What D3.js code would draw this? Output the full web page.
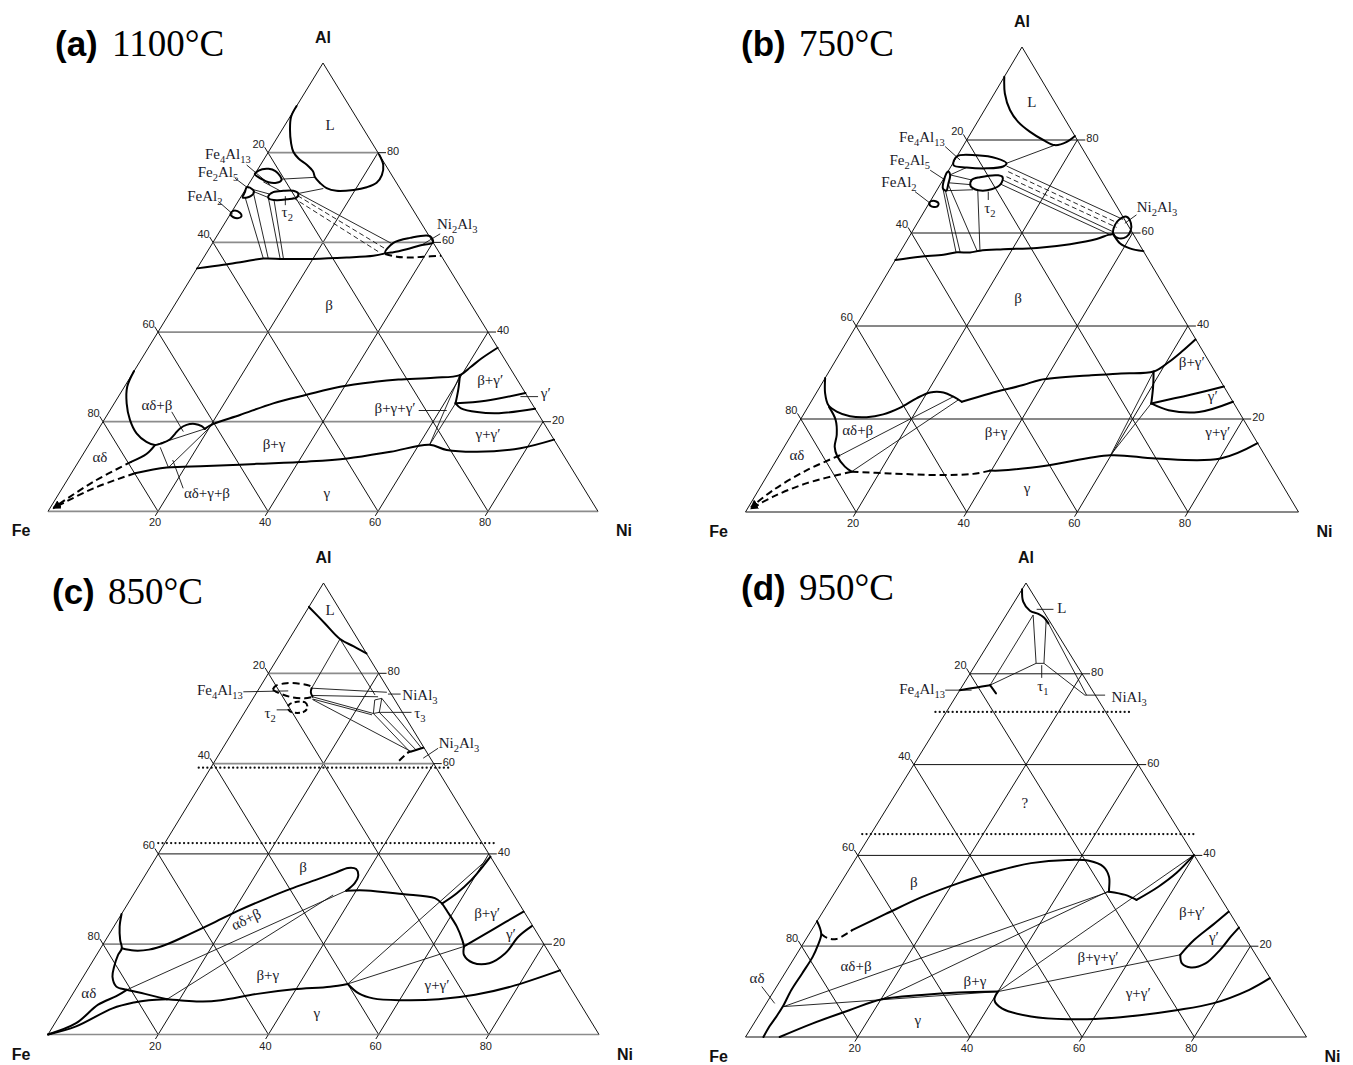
<!DOCTYPE html>
<html>
<head>
<meta charset="utf-8">
<script src="https://cdn.jsdelivr.net/npm/d3@7"></script>
<style>
  body { margin: 0; background: #fff; }
  svg { display: block; }
</style>
</head>
<body>
<svg id="chart" width="1353" height="1065"></svg>
<script>
// Fe–Ni–Al isothermal sections. Every composition is [at.% Ni, at.% Al]; Fe is the balance.

const gridLevels = [20, 40, 60, 80];
const bottomTickLabels = ["20", "40", "60", "80"];   // at.% Ni
const leftTickLabels   = ["80", "60", "40", "20"];   // at.% Fe
const rightTickLabels  = ["20", "40", "60", "80"];   // at.% Al

// ---------- 1100 °C ----------
const boundaries1100 = [
  [[0,90.4],[0.2,88],[1.45,85.1],[3.15,82.1],[4.5,80.2],[6.2,78.7],[8.4,77.3],[10.3,75.8],[11.3,74.5],[12.9,73.2],[14.6,72.1],[16.7,71.5],[19.7,71.7],[21.8,72.3],[23.1,73.3],[23.2,75.0],[22.3,77.3],[20.4,79.6]],
  [[0,54.2],[4.4,55.0],[7.65,55.7],[10.95,56.4],[14.65,56.3],[20.05,56.3],[26.0,56.6],[30.65,57.0],[32.5,57.55]],
  [[0,31.3],[0.5,27.8],[2.25,24.1],[4.7,20.4],[7.4,17.4],[10.15,15.5],[12.05,14.8],[13.1,15.2],[14.15,16.1],[14.45,17.3],[14.75,18.5],[15.55,19.3],[16.95,19.5],[18.45,19.0],[19.3,18.4]],
  [[19.3,18.4],[20.3,19.5],[24.15,21.5],[28.9,24.1],[34.0,26.0],[39.2,27.8],[45.0,28.9],[49.0,29.4],[55.25,29.8],[59.7,30.4],[60.75,32.2],[61.75,34.1],[63.5,36.5]],
  [[59.7,30.4],[61.0,27.2],[62.05,24.1]],
  [[62.05,24.1],[67.25,24.7],[73.6,26.4]],
  [[62.05,24.1],[63.6,23.0],[66.95,22.15],[71.05,21.9],[77.1,22.9]],
  [[11.55,8.5],[16.7,9.8],[23.8,10.1],[32.65,10.6],[41.45,11.1],[48.5,11.8],[55.65,13.3],[61.95,14.85],[65.65,13.7],[71.35,13.3],[78.85,14.1],[84.0,16.0]],
  [[12.05,14.8],[11.5,12.8],[9.65,11.1]]
];
const fields1100 = [
  [[0,75.6],[0.8,76.3],[1.9,76.4],[3.4,75.9],[4.8,74.8],[5.5,73.9],[4.9,73.3],[3.4,73.4],[1.8,74.1],[0,75.2]],
  [[0,72.3],[1.3,71.8],[1.8,71.3],[1.7,70.3],[0.4,70.0],[0.2,71.2]],
  [[0,66.8],[0.45,67.1],[1.6,66.6],[2.25,65.9],[1.9,65.4],[0.9,65.6],[0.1,66.2]],
  [[4.9,70.3],[5.36,71.2],[7.05,71.5],[8.85,71.5],[10.05,70.9],[10.2,70.0],[8.6,69.6],[6.9,69.4],[5.35,69.7]],
  [[32.45,57.7],[32.85,59.9],[35.3,61.0],[38.75,61.4],[40.0,60.0],[37.95,59.3],[36.0,58.45],[33.9,57.8]]
];
const dashed1100 = [
  [[32.6,57.4],[35.0,56.8],[37.5,56.6],[39.8,56.8],[43.0,57.0]],
  [[9.65,11.1],[4.95,6.6],[0.6,0.8]],
  [[11.55,8.5],[5.7,5.15],[0.6,0.7]]
];
const dashedTies1100 = [
  [[9.5,70.0],[31.5,57.7]],
  [[10.2,70.4],[31.8,58.7]]
];
const ties1100 = [
  [[12.05,14.8],[19.3,18.4]],
  [[13.25,14.3],[17.0,9.8]],
  [[20.3,19.5],[17.0,9.8]],
  [[0.7,70.2],[10.95,56.4]],
  [[1.65,71.3],[11.85,56.4]],
  [[5.05,70.0],[14.0,56.4]],
  [[6.4,69.4],[14.6,56.4]],
  [[1.3,71.8],[4.8,70.8]],
  [[1.8,71.3],[5.05,70.0]],
  [[2.4,73.5],[6.45,71.5]],
  [[5.45,74.1],[11.25,74.5]],
  [[10.05,70.9],[14.05,72.0]],
  [[10.1,70.9],[32.5,59.8]],
  [[59.7,30.4],[61.95,14.85]],
  [[62.05,24.1],[61.95,14.85]]
];
const leaders1100 = [
  [[-2.5,77.25],[4.0,72.8]],
  [[-3.15,74.3],[0.4,72.05]],
  [[-3.55,69.1],[0.45,66.3]],
  [[8.0,70.3],[9.0,68.3]],
  [[40.35,61.9],[38.4,59.6]],
  [[11.4,22.2],[15.7,17.8]],
  [[22.0,5.15],[16.95,11.45]],
  [[73.1,25.6],[76.3,25.6]],
  [[56.15,22.5],[61.25,22.5]]
];
const labels1100 = [
  ["L", 8.2, 86.2], ["β", 28.1, 46.0], ["αδ+β", 7.95, 23.7], ["αδ", 3.4, 12.1],
  ["β+γ", 33.6, 15.0], ["αδ+γ+β", 26.85, 4.1], ["γ", 48.65, 4.1], ["β+γ′", 65.75, 29.3],
  ["γ′", 77.3, 26.4], ["β+γ+γ′", 51.55, 23.1], ["γ+γ′", 71.35, 17.3], ["τ2", 10.1, 66.8],
  ["Fe4Al13", -7.15, 79.7], ["Fe2Al5", -6.95, 75.7], ["FeAl2", -6.65, 70.3], ["Ni2Al3", 42.35, 64.1]
];

// ---------- 750 °C ----------
const boundaries750 = [
  [[0,93.6],[1.9,90.0],[4.6,86.45],[7.35,83.9],[10.5,81.8],[13.85,80.0],[16.5,78.9],[18.3,79.6],[19.15,80.85]],
  [[0,54.2],[4.1,54.9],[8.15,55.3],[10.3,55.85],[12.7,55.8],[14.3,56.2],[18.35,56.5],[24.3,56.8],[29.9,57.6],[34.15,58.7],[35.8,59.6],[36.6,59.8]],
  [[36.6,59.8],[38.8,57.8],[41.15,56.7],[43.9,56.1]],
  [[0,28.8],[1.65,25.5],[3.47,23.0],[5.7,21.6],[8.6,20.6],[11.7,20.4],[14.4,21.0],[16.7,22.4],[18.7,24.45],[20.55,25.7],[22.95,25.7],[25.2,24.8],[27.25,23.7]],
  [[27.25,23.7],[31.45,25.5],[36.55,27.3],[39.05,28.4],[47.8,29.4],[53.0,29.8],[58.7,30.2],[60.4,32.2],[61.65,34.5],[62.8,37.1]],
  [[3.8,22.6],[6.4,19.8],[8.2,16.6],[9.1,14.05],[10.55,12.05],[13.1,9.75],[14.85,8.67]],
  [[58.7,30.2],[60.3,26.8],[61.7,23.35]],
  [[61.7,23.35],[67.85,25.2],[73.0,27.0]],
  [[61.7,23.35],[65.55,21.9],[71.25,21.5],[76.3,23.7]],
  [[39.75,8.9],[41.55,8.9],[49.6,10.0],[59.9,12.2],[68.45,11.5],[80.15,11.5],[85.2,14.8]]
];
const fields750 = [
  [[0,76.5],[3.45,76.7],[7.4,76.05],[9.7,75.0],[9.45,74.3],[6.65,73.9],[2.95,74.1],[0.3,74.6]],
  [[0,73.2],[0.75,72.5],[1.35,70.7],[1.75,69.1],[0.9,69.6],[0.2,71.4]],
  [[0,66.5],[0.5,66.95],[1.7,66.4],[1.8,65.65],[0.6,65.8]],
  [[5.2,71.4],[6.4,72.0],[9.5,72.4],[10.5,72.0],[10.9,70.5],[9.8,69.4],[7.5,69.2],[5.65,70.1]],
  [[36.15,62.9],[37.15,63.5],[38.65,62.1],[39.4,60.5],[39.3,59.2],[37.95,58.9],[36.6,59.8],[35.95,61.7]]
];
const dashed750 = [
  [[11.0,12.2],[6.6,9.0],[2.65,4.7],[0.5,1.0]],
  [[14.85,8.67],[8.0,6.2],[3.35,3.3],[0.6,0.7]],
  [[14.85,8.67],[21.95,8.3],[31.2,7.95],[37.1,8.2],[39.75,8.9]]
];
const dashedTies750 = [
  [[10.9,73.2],[36.35,62.1]],
  [[11.15,72.1],[36.5,61.2]]
];
const ties750 = [
  [[10.0,74.4],[36.85,62.9]],
  [[10.8,71.4],[36.25,60.3]],
  [[10.9,70.5],[36.2,59.6]],
  [[9.7,75.0],[16.5,78.9]],
  [[0.75,72.5],[2.95,74.1]],
  [[0.75,72.5],[5.2,71.4]],
  [[1.3,70.8],[5.5,70.4]],
  [[1.75,69.1],[6.5,69.3]],
  [[0.9,69.6],[10.15,55.85]],
  [[1.6,69.1],[10.9,55.85]],
  [[1.4,70.5],[13.85,56.1]],
  [[7.4,69.2],[14.3,56.2]],
  [[11.0,12.2],[25.2,24.8]],
  [[14.85,8.67],[26.5,24.2]],
  [[58.7,30.2],[59.9,12.2]],
  [[61.7,23.35],[59.9,12.2]]
];
const leaders750 = [
  [[-3.2,78.6],[0.95,75.7]],
  [[-3.35,73.5],[0.4,71.4]],
  [[-3.8,68.9],[0.2,66.4]],
  [[9.45,68.9],[10.35,67.1]],
  [[38.75,63.9],[37.55,62.1]]
];
const labels750 = [
  ["L", 7.7, 88.2], ["β", 26.3, 46.0], ["αδ+β", 11.5, 17.6], ["αδ", 3.15, 12.3],
  ["β+γ", 36.7, 17.2], ["γ", 48.3, 5.2], ["β+γ′", 64.55, 32.3], ["γ′", 72.05, 24.9],
  ["γ+γ′", 76.8, 17.2], ["τ2", 11.5, 65.4], ["Fe4Al13", -8.4, 80.6], ["Fe2Al5", -8.15, 75.7],
  ["FeAl2", -7.75, 71.0], ["Ni2Al3", 41.6, 65.6]
];

// ---------- 850 °C ----------
const boundaries850 = [
  [[0,94.7],[4.6,91.15],[9.2,87.6],[12.4,86.0],[15.6,84.4]],
  [[0,26.7],[1.05,23.9],[2.65,20.9],[3.85,19.1],[3.9,17.6],[4.5,15.0],[5.3,12.8],[7.1,10.6],[9.35,9.9],[13.1,9.0],[17.7,7.8]],
  [[3.85,19.1],[6.3,18.6],[8.93,18.8],[11.6,20.0],[14.65,22.3],[17.85,24.9],[21.05,27.6],[24.4,30.0],[27.8,32.2],[31.4,34.2],[34.2,35.8],[36.0,36.9],[37.6,36.65],[38.75,35.1],[38.9,33.55],[38.2,31.85]],
  [[38.2,31.85],[41.75,31.9],[48.75,31.1],[55.1,30.2],[57.0,29.0],[58.9,27.2],[62.25,23.9],[64.75,20.9],[65.75,19.5]],
  [[57.0,29.0],[58.55,31.3],[59.7,34.2],[60.35,37.5],[60.6,39.4]],
  [[65.75,19.5],[69.2,23.35],[72.7,27.2]],
  [[65.75,19.5],[66.7,17.6],[69.15,15.9],[72.2,15.8],[74.0,18.0],[74.55,21.7],[75.8,24.0]],
  [[48.8,11.2],[51.85,9.1],[55.0,8.0],[60.5,7.6],[67.0,7.8],[73.1,8.8],[78.7,10.6],[85.8,14.2]],
  [[17.7,7.8],[21.05,7.5],[24.45,7.3],[27.6,7.6],[33.5,9.0],[39.6,10.0],[45.9,10.6],[48.8,11.2]],
  [[0,0],[3.85,2.5],[5.8,6.6],[8.15,8.5],[9.35,9.9]],
  [[0,0],[4.2,1.8],[8.8,5.8],[12.05,7.1],[14.5,7.6],[17.7,7.8]],
  [[34.15,62.5],[35.3,63.0],[36.35,63.5]],
  [[9.5,76.7],[9.8,75.8],[10.6,74.8]]
];
const fields850 = [];
const dashed850 = [
  [[2.6,76.4],[2.75,77.25],[4.4,77.8],[6.85,77.7],[8.8,77.25],[9.5,76.7]],
  [[2.6,76.4],[3.45,75.9],[6.5,74.8],[9.4,74.45],[10.6,74.8]],
  [[33.4,60.65],[33.85,61.9],[34.15,62.5]]
];
const dashedFields850 = [
  [[7.3,73.2],[9.8,73.6],[10.9,72.4],[10.6,71.4],[8.5,71.4],[7.4,72.25]]
];
const dashedTies850 = [];
const ties850 = [
  [[9.2,87.6],[9.5,76.7]],
  [[9.2,87.6],[21.75,75.2]],
  [[9.5,76.7],[23.6,75.8]],
  [[10.3,75.1],[22.5,74.8]],
  [[10.6,74.8],[23.5,71.1]],
  [[10.9,74.3],[23.4,70.8]],
  [[10.9,74.2],[34.7,62.6]],
  [[23.5,71.1],[34.4,62.6]],
  [[24.45,71.35],[35.45,62.9]],
  [[23.35,74.45],[36.1,63.4]],
  [[22.25,74.1],[23.35,74.45],[24.45,71.35],[23.5,71.1],[22.25,74.1]],
  [[9.35,9.9],[38.2,31.85]],
  [[17.7,7.8],[36.3,30.9]],
  [[48.8,11.2],[60.6,39.4]],
  [[48.8,11.2],[65.75,19.5]]
];
const dotted850 = [
  [[-1.2,42.4],[59.9,42.4]],
  [[-2.2,59.1],[43.75,59.1]]
];
const leaders850 = [
  [[-2.5,75.9],[5.55,76.1]],
  [[5.55,71.9],[7.95,71.9]],
  [[24.0,75.4],[26.3,75.4]],
  [[24.3,71.35],[30.3,71.35]],
  [[37.5,61.2],[39.1,63.4]]
];
const labels850 = [
  ["L", 4.2, 94.0], ["β", 27.75, 37.1], ["αδ+β", 23.2, 25.5], ["αδ", 2.8, 9.2],
  ["β+γ", 33.3, 13.2], ["γ", 46.4, 4.8], ["β+γ′", 66.25, 26.9], ["γ′", 72.85, 22.3],
  ["γ+γ′", 65.1, 11.0], ["Fe4Al13", -6.95, 76.3], ["τ2", 4.7, 71.2], ["NiAl3", 29.9, 75.2],
  ["τ3", 31.9, 71.2], ["Ni2Al3", 42.3, 64.6]
];

// ---------- 950 °C ----------
const boundaries950 = [
  [[0,98.6],[1.55,95.9],[3.75,93.9],[5.6,93.2],[7.0,92.4],[8.45,91.1]],
  [[0,76.4],[2.7,77.0],[4.85,77.5]],
  [[4.85,77.5],[6.8,75.7]],
  [[0,25.5],[2.15,22.7],[2.85,19.9],[3.15,17.7],[3.1,14.0],[3.0,10.4],[3.3,6.7],[3.25,4.5],[3.1,2.3],[3.2,0]],
  [[7.3,23.6],[11.45,27.1],[16.0,30.8],[20.95,33.85],[26.2,36.4],[31.75,38.3],[37.9,39.0],[41.85,38.8],[45.05,37.5],[47.15,35.3],[48.6,32.4],[48.8,32.0]],
  [[48.8,32.0],[52.05,31.3],[54.6,30.2]],
  [[54.6,30.2],[57.05,33.1],[58.75,36.1],[59.9,40.1]],
  [[68.45,18.1],[69.3,21.4],[70.95,24.7],[72.3,27.6]],
  [[68.45,18.1],[69.7,16.2],[71.75,15.3],[73.9,16.2],[75.0,19.2],[75.45,22.1],[75.9,24.1]],
  [[40.0,10.0],[40.3,8.15],[42.55,6.3],[48.65,4.5],[55.45,3.9],[61.75,4.1],[67.9,4.8],[73.85,5.9],[79.6,7.4],[84.6,10.4],[87.0,12.95]],
  [[6.1,0],[10.5,3.0],[15.55,5.9],[20.15,8.3],[26.8,9.25],[33.0,9.8],[40.0,10.0]]
];
const fields950 = [];
const dashed950 = [
  [[2.15,22.7],[3.7,21.8],[5.4,21.6],[7.3,23.6]]
];
const dashedTies950 = [];
const ties950 = [
  [[4.8,92.95],[10.65,82.3]],
  [[7.6,92.0],[12.05,82.3]],
  [[10.65,82.3],[12.05,82.3]],
  [[10.65,82.3],[4.85,77.5]],
  [[4.8,92.95],[4.85,77.5]],
  [[12.05,82.3],[22.85,75.3]],
  [[8.45,91.1],[23.15,75.3]],
  [[3.45,6.7],[48.8,32.0]],
  [[20.15,8.3],[48.7,32.2]],
  [[3.45,6.7],[40.0,10.0]],
  [[40.0,10.0],[59.9,40.1]],
  [[40.0,10.0],[68.45,18.1]]
];
const dotted950 = [
  [[-1.95,71.6],[32.7,71.6]],
  [[-1.55,44.7],[58.15,44.7]]
];
const leaders950 = [
  [[-2.65,11.1],[1.5,7.4]],
  [[4.8,94.2],[7.8,94.2]],
  [[11.85,81.9],[13.25,79.1]],
  [[-2.6,76.4],[2.1,76.4]],
  [[22.85,75.3],[26.45,75.3]]
];
const labels950 = [
  ["β", 12.95, 34.1], ["αδ+β", 11.9, 15.6], ["αδ", -4.45, 13.0], ["β+γ", 34.75, 12.3],
  ["γ", 28.85, 3.7], ["β+γ+γ′", 54.05, 17.6], ["β+γ′", 65.85, 27.5], ["γ′", 72.5, 22.0],
  ["γ+γ′", 65.15, 9.7], ["?", 24.05, 51.5], ["L", 9.15, 94.5], ["τ1", 14.35, 77.3],
  ["Fe4Al13", -6.85, 76.65], ["NiAl3", 30.95, 74.9]
];

// ---------- page layout ----------
const panels = [
  { tag: "(a)", temp: "1100°C", xF: 48, xN: 598, yB: 511.4, yA: 63, tagX: 55, tempX: 112, titleY: 56,
    grayLevels: [0, 20, 40, 60, 80],
    boundaries: boundaries1100, fields: fields1100, dashed: dashed1100, dashedFields: [],
    dashedTies: dashedTies1100, ties: ties1100, dotted: [], leaders: leaders1100, labels: labels1100, rotated: {} },
  { tag: "(b)", temp: "750°C", xF: 745.5, xN: 1298.5, yB: 512, yA: 47, tagX: 741, tempX: 799, titleY: 56,
    grayLevels: [],
    boundaries: boundaries750, fields: fields750, dashed: dashed750, dashedFields: [],
    dashedTies: dashedTies750, ties: ties750, dotted: [], leaders: leaders750, labels: labels750, rotated: {} },
  { tag: "(c)", temp: "850°C", xF: 48, xN: 599, yB: 1034.5, yA: 583, tagX: 52, tempX: 108, titleY: 604,
    grayLevels: [0, 20, 60, 80],
    boundaries: boundaries850, fields: fields850, dashed: dashed850, dashedFields: dashedFields850,
    dashedTies: dashedTies850, ties: ties850, dotted: dotted850, leaders: leaders850, labels: labels850,
    rotated: { "αδ+β": -25 } },
  { tag: "(d)", temp: "950°C", xF: 745.5, xN: 1306.5, yB: 1037, yA: 583, tagX: 741, tempX: 799, titleY: 600,
    grayLevels: [20],
    boundaries: boundaries950, fields: fields950, dashed: dashed950, dashedFields: [],
    dashedTies: dashedTies950, ties: ties950, dotted: dotted950, leaders: leaders950, labels: labels950, rotated: {} }
];

const svg = d3.select("#chart");
const smoothLine = d3.line().curve(d3.curveCatmullRom.alpha(0.5));
const closedLine = d3.line().curve(d3.curveCatmullRomClosed.alpha(0.5));
const straightLine = d3.line();

const SERIF = "'Liberation Serif', 'Times New Roman', serif";
const SANS = "'Liberation Sans', Arial, Helvetica, sans-serif";

// small arrowhead used where the dashed boundaries run into the Fe corner
svg.append("defs").append("marker")
  .attr("id", "arrowHead").attr("viewBox", "0 0 10 10").attr("refX", 9).attr("refY", 5)
  .attr("markerWidth", 4).attr("markerHeight", 4).attr("orient", "auto")
  .append("path").attr("d", "M0,0 L10,5 L0,10 z").attr("fill", "#000");

// writes a phase name, turning the digits of formulas into subscripts
function writeFormula(textSel, str) {
  const parts = str.match(/(\d+|[^\d]+)/g) || [];
  let sub = false;
  parts.forEach(p => {
    const isNum = /^\d+$/.test(p);
    const t = textSel.append("tspan").text(p);
    if (isNum && !sub) { t.attr("dy", 4).attr("font-size", "0.7em"); sub = true; }
    else if (!isNum && sub) { t.attr("dy", -4); sub = false; }
    else if (isNum) { t.attr("font-size", "0.7em"); }
  });
}

function drawPanel(L) {
  // ternary projection through two linear scales: horizontal = Ni + Al/2, vertical = Al
  const xs = d3.scaleLinear().domain([0, 100]).range([L.xF, L.xN]);
  const ys = d3.scaleLinear().domain([0, 100]).range([L.yB, L.yA]);
  const proj = c => [xs(c[0] + c[1] / 2), ys(c[1])];
  const g = svg.append("g");

  const gridG = g.append("g").attr("fill", "none");
  const stroke = (sel, gray) => sel.attr("stroke", gray ? "#8c8c8c" : "#111")
                                   .attr("stroke-width", gray ? 1.7 : 1);

  gridLevels.forEach(v => {
    stroke(gridG.append("path").attr("d", straightLine([[0, v], [100 - v, v]].map(proj))), L.grayLevels.includes(v));
    stroke(gridG.append("path").attr("d", straightLine([[v, 0], [v, 100 - v]].map(proj))), false);
    stroke(gridG.append("path").attr("d", straightLine([[100 - v, 0], [0, 100 - v]].map(proj))), false);
  });
  stroke(gridG.append("path").attr("d", straightLine([[0, 0], [100, 0]].map(proj))), L.grayLevels.includes(0));
  stroke(gridG.append("path").attr("d", straightLine([[0, 0], [0, 100], [100, 0]].map(proj))), false);

  // ticks and tick labels
  const tickG = g.append("g").attr("font-family", SANS).attr("font-size", 11).attr("fill", "#222");
  gridLevels.forEach((v, i) => {
    // bottom: Ni
    const b0 = proj([v, 0]), b1 = proj([v, -1.0]);
    gridG.append("path").attr("d", straightLine([b0, b1])).attr("stroke", "#111").attr("stroke-width", 1);
    tickG.append("text").attr("x", b0[0] - 3).attr("y", b0[1] + 15).attr("text-anchor", "middle").text(bottomTickLabels[i]);
    // left: Fe, along the constant-Fe direction
    const l0 = proj([0, v]), l1 = proj([-1.2, v + 1.2]);
    gridG.append("path").attr("d", straightLine([l0, l1])).attr("stroke", "#111").attr("stroke-width", 1);
    tickG.append("text").attr("x", l1[0]).attr("y", l1[1] + 1).attr("text-anchor", "end").text(leftTickLabels[i]);
    // right: Al, horizontal
    const r0 = proj([100 - v, v]);
    gridG.append("path").attr("d", straightLine([r0, [r0[0] + 8, r0[1]]])).attr("stroke", "#111").attr("stroke-width", 1);
    tickG.append("text").attr("x", r0[0] + 9).attr("y", r0[1] + 2).attr("text-anchor", "start").text(rightTickLabels[i]);
  });

  // corner names
  const cornerG = g.append("g").attr("font-family", SANS).attr("font-weight", "bold")
                   .attr("font-size", 16).attr("fill", "#111").attr("text-anchor", "middle");
  const pAl = proj([0, 100]), pFe = proj([0, 0]), pNi = proj([100, 0]);
  cornerG.append("text").attr("x", pAl[0]).attr("y", pAl[1] - 20).text("Al");
  cornerG.append("text").attr("x", pFe[0] - 27).attr("y", pFe[1] + 25).text("Fe");
  cornerG.append("text").attr("x", pNi[0] + 26).attr("y", pNi[1] + 25).text("Ni");

  // tie lines and leaders
  const thinG = g.append("g").attr("fill", "none").attr("stroke", "#111").attr("stroke-width", 0.9);
  L.ties.forEach(t => thinG.append("path").attr("d", straightLine(t.map(proj))));
  L.leaders.forEach(t => thinG.append("path").attr("d", straightLine(t.map(proj))));
  L.dashedTies.forEach(t => thinG.append("path").attr("d", straightLine(t.map(proj))).attr("stroke-dasharray", "5,3"));

  // dotted limits of the investigated range
  L.dotted.forEach(t => g.append("path").attr("d", straightLine(t.map(proj)))
    .attr("fill", "none").attr("stroke", "#111").attr("stroke-width", 2.2)
    .attr("stroke-linecap", "round").attr("stroke-dasharray", "0.1,4.2"));

  // phase boundaries
  const bG = g.append("g").attr("fill", "none").attr("stroke", "#000").attr("stroke-width", 2)
              .attr("stroke-linejoin", "round").attr("stroke-linecap", "round");
  L.boundaries.forEach(b => bG.append("path").attr("d", smoothLine(b.map(proj))));
  L.fields.forEach(f => bG.append("path").attr("d", closedLine(f.map(proj))));
  L.dashed.forEach(b => {
    const p = bG.append("path").attr("d", smoothLine(b.map(proj)))
      .attr("stroke-dasharray", "7,4").attr("stroke-linecap", "butt");
    const end = b[b.length - 1];
    if (end[0] + end[1] < 2) p.attr("marker-end", "url(#arrowHead)");
  });
  L.dashedFields.forEach(f => bG.append("path").attr("d", closedLine(f.map(proj))).attr("stroke-dasharray", "5,3").attr("stroke-linecap", "butt"));

  // phase names
  const labG = g.append("g").attr("font-family", SERIF).attr("font-size", 15).attr("fill", "#1a1a2a")
                .attr("text-anchor", "middle");
  L.labels.forEach(([txt, ni, al]) => {
    const p = proj([ni, al]);
    const t = labG.append("text").attr("x", p[0]).attr("y", p[1] + 5);
    if (L.rotated[txt] !== undefined) t.attr("transform", `rotate(${L.rotated[txt]},${p[0]},${p[1]})`);
    writeFormula(t, txt);
  });

  // title
  g.append("text").attr("x", L.tagX).attr("y", L.titleY).attr("font-family", SANS)
   .attr("font-weight", "bold").attr("font-size", 35).attr("fill", "#000").text(L.tag);
  g.append("text").attr("x", L.tempX).attr("y", L.titleY).attr("font-family", SERIF)
   .attr("font-size", 37).attr("fill", "#000").text(L.temp);
}

panels.forEach(drawPanel);
</script>
</body>
</html>
